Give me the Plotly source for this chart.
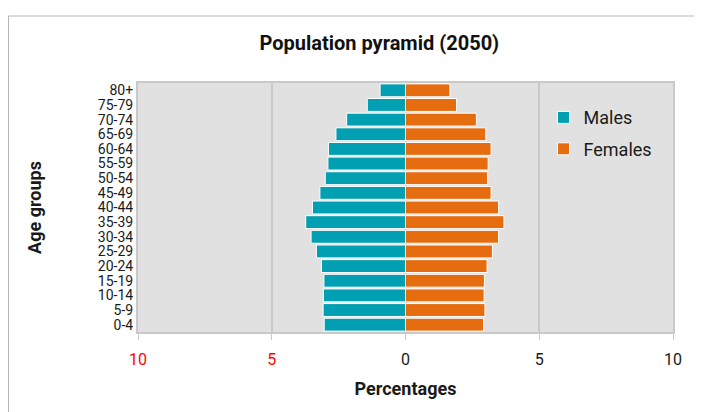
import plotly.graph_objects as go

# age groups, youngest first so 0-4 sits at the bottom
age_groups = ["0-4", "5-9", "10-14", "15-19", "20-24", "25-29", "30-34", "35-39",
              "40-44", "45-49", "50-54", "55-59", "60-64", "65-69", "70-74", "75-79", "80+"]
males = [3.04, 3.08, 3.07, 3.05, 3.14, 3.33, 3.53, 3.73,
         3.48, 3.2, 3.0, 2.9, 2.88, 2.6, 2.2, 1.43, 0.95]
females = [2.92, 2.97, 2.94, 2.95, 3.05, 3.25, 3.48, 3.68,
           3.48, 3.2, 3.07, 3.09, 3.2, 3.0, 2.65, 1.91, 1.66]

tick_vals = [-10, -5, 0, 5, 10]
tick_text = ["<span style='color:#ff0000'>10</span>", "<span style='color:#ff0000'>5</span>",
             "0", "5", "10"]

FONT = "Roboto, sans-serif"
GRID = "#c9c9c9"

fig = go.Figure()
fig.add_trace(go.Bar(
    y=age_groups, x=[-v for v in males], orientation="h", name="Males", legendgroup="m",
    marker=dict(color="#009fb1", line=dict(color="white", width=1)),
    customdata=males, hovertemplate="%{y}: %{customdata}%<extra>Males</extra>",
))
fig.add_trace(go.Bar(
    y=age_groups, x=females, orientation="h", name="Females", legendgroup="f",
    marker=dict(color="#e56d10", line=dict(color="white", width=1)),
    hovertemplate="%{y}: %{x}%<extra>Females</extra>",
))

# the page body adds 8px, so the figure is 8px smaller than the window
fig.update_layout(
    width=694, height=404,
    margin=dict(l=130, r=29, t=75, b=80),
    barmode="relative", bargap=0.12,
    paper_bgcolor="white", plot_bgcolor="#e1e1e1",
    font=dict(family=FONT, color="#1a1a1a"),
    title=dict(text="<b>Population pyramid (2050)</b>", x=0.535, xanchor="center",
               y=0.913, yanchor="middle", font=dict(size=20, family=FONT, color="#111")),
    legend=dict(x=0.758, y=0.935, xanchor="left", yanchor="top",
                bgcolor="rgba(0,0,0,0)", font=dict(size=18, family=FONT),
                tracegroupgap=5, itemwidth=30),
    showlegend=True,
)
fig.update_xaxes(
    range=[-10, 10], tickvals=tick_vals, ticktext=tick_text,
    showgrid=True, gridcolor=GRID, gridwidth=2, zeroline=False,
    showline=True, linecolor=GRID, linewidth=2, mirror=True,
    ticks="outside", ticklen=6, tickcolor=GRID, tickwidth=1,
    ticklabelstandoff=6,
    tickfont=dict(size=16, family=FONT, color="#1a1a1a"),
    title=dict(text="<b>Percentages</b>", font=dict(size=18, family=FONT), standoff=14),
)
fig.update_yaxes(
    tickmode="array", tickvals=age_groups,
    showgrid=False, zeroline=False,
    showline=True, linecolor=GRID, linewidth=2, mirror=True,
    ticks="", tickfont=dict(size=14, family=FONT, color="#1a1a1a"),
    title=dict(text="<b>Age groups</b>", font=dict(size=18, family=FONT), standoff=52),
)

# light frame around the whole chart
fig.add_shape(type="rect", xref="paper", yref="paper",
              x0=(8.5 - 138) / 535, x1=(700 - 138) / 535,
              y0=(332 - 420) / 249, y1=(332 - 16) / 249,
              line=dict(color="#b5b5b5", width=1), layer="below")

fig.write_html("out.html")
